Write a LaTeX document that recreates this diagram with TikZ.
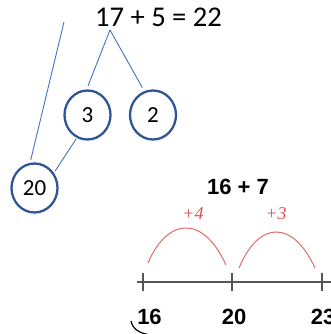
\documentclass[tikz,border=0pt]{standalone}
\usepackage{fontspec}
\setmainfont{Carlito}
\newfontfamily\arialb{Liberation Sans}
\newfontfamily\timesi{Liberation Serif}
\usetikzlibrary{shapes.geometric,calc}
\definecolor{lineblue}{HTML}{4472C4}
\definecolor{ringblue}{HTML}{2F5597}
\definecolor{jumpred}{HTML}{D9534F}
\definecolor{axisgray}{HTML}{555555}
\tikzset{
  part/.style={ellipse,draw=ringblue,line width=2.3pt,minimum width=46pt,minimum height=49pt,inner sep=0pt,font=\fontsize{23}{23}\selectfont}, % split number
  link/.style={lineblue,line width=0.9pt},                   % tree branch
  jump/.style={jumpred!85,line width=1pt},                   % hop on the line
  hoplbl/.style={jumpred,font=\timesi\itshape\fontsize{18}{18}\selectfont},
  numlbl/.style={font=\arialb\bfseries\fontsize{22}{22}\selectfont},
  axis/.style={axisgray,line width=2pt},
  tick/.style={axisgray,line width=1.2pt},
}
\begin{document}
\begin{tikzpicture}[x=1pt,y=-1pt]
  \clip (0,0) rectangle (331,334);
  % partition of 17 + 5
  \node[font=\fontsize{28.6}{28.6}\selectfont] (sum) at (158.5,17) {17 + 5 = 22};
  \coordinate (fork) at (110,30);
  \coordinate (top) at (64,22);
  \node[part] (c3) at (87.5,115) {3};
  \node[part] (c2) at (153,115) {2};
  \node[part] (c20) at (34.5,188) {20};
  \draw[link,shorten >=4pt] (fork) -- (c3.92);
  \draw[link,shorten >=4pt] (fork) -- (c2.110);
  \draw[link,shorten >=3pt] (top) -- (c20.100);
  \draw[link,shorten <=1pt,shorten >=2pt] (c3.245) -- (c20.38);
  % number line 16 + 7
  \node[numlbl] (ttl) at (238,187) {16 + 7};
  \coordinate (t16) at (143,282);
  \coordinate (t20) at (232,282);
  \coordinate (t23) at (322,282);
  \draw[axis] (137,282) -- (331,282);
  \foreach \t in {t16,t20,t23} \draw[tick] ($(\t)+(0,-9)$) -- ($(\t)+(0,9)$);
  \draw[jump] (148,263) .. controls (168,216) and (204,216) .. (226,265);
  \draw[jump] (239,268) .. controls (259,220) and (293,220) .. (315,268);
  \node[hoplbl] (h4) at (193,214) {+4};
  \node[hoplbl] (h3) at (276,214) {+3};
  \node[numlbl] (n16) at (149.5,317) {16};
  \node[numlbl] (n20) at (234,317) {20};
  \node[numlbl] (n23) at (323,317) {23};
  \draw[line width=1.2pt] (131,321) .. controls (133,330) and (140,333) .. (150,335);
\end{tikzpicture}
\end{document}
